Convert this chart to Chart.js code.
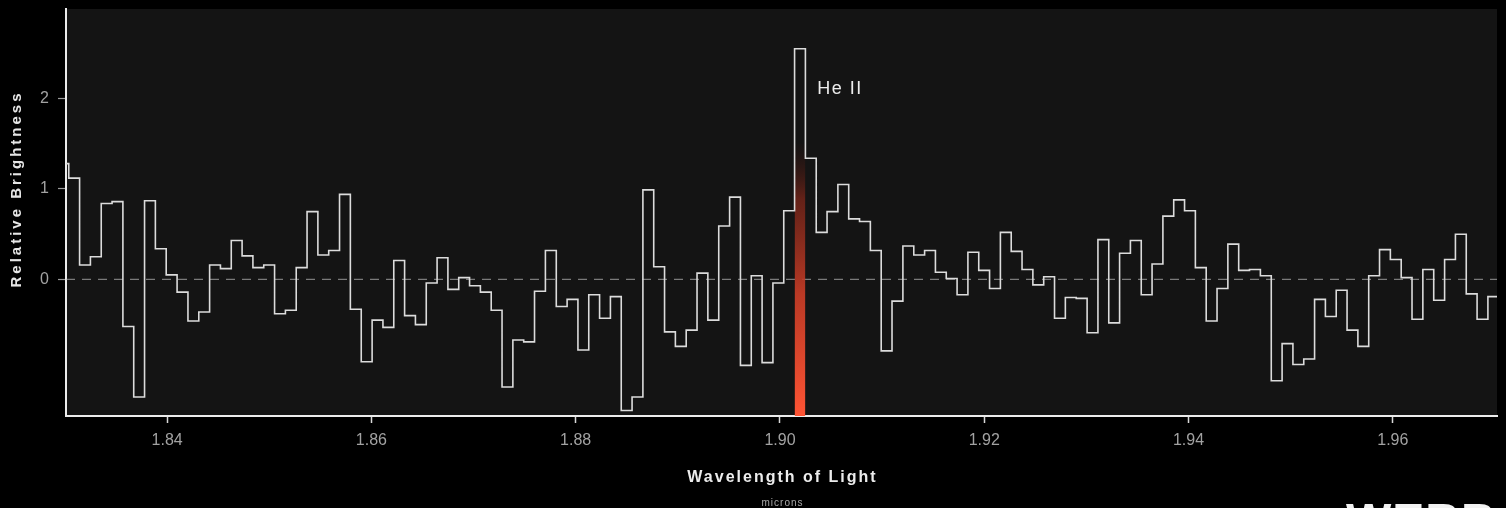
<!DOCTYPE html>
<html><head><meta charset="utf-8">
<script src="https://cdn.jsdelivr.net/npm/chart.js@4.4.1/dist/chart.umd.min.js"></script>
<style>html,body{margin:0;padding:0;background:#000;}#wrap{position:relative;width:1506px;height:508px;}</style>
</head><body><div id="wrap"><canvas id="c"></canvas></div>
<script>
// Bin-centre wavelengths (microns) and relative brightness of each bin
const wavelengths = [
1.82984,1.83090,1.83196,1.83302,1.83408,1.83514,1.83620,1.83726,1.83832,1.83938,
1.84044,1.84151,1.84257,1.84363,1.84469,1.84575,1.84681,1.84787,1.84893,1.84999,
1.85105,1.85211,1.85317,1.85423,1.85529,1.85635,1.85741,1.85847,1.85954,1.86060,
1.86166,1.86272,1.86378,1.86484,1.86590,1.86696,1.86802,1.86908,1.87014,1.87120,
1.87226,1.87332,1.87438,1.87544,1.87650,1.87757,1.87863,1.87969,1.88075,1.88181,
1.88287,1.88393,1.88499,1.88605,1.88711,1.88817,1.88923,1.89029,1.89135,1.89241,
1.89347,1.89454,1.89560,1.89666,1.89772,1.89878,1.89984,1.90090,1.90196,1.90302,
1.90408,1.90514,1.90620,1.90726,1.90832,1.90938,1.91044,1.91150,1.91257,1.91363,
1.91469,1.91575,1.91681,1.91787,1.91893,1.91999,1.92105,1.92211,1.92317,1.92423,
1.92529,1.92635,1.92741,1.92847,1.92954,1.93060,1.93166,1.93272,1.93378,1.93484,
1.93590,1.93696,1.93802,1.93908,1.94014,1.94120,1.94226,1.94332,1.94438,1.94544,
1.94650,1.94757,1.94863,1.94969,1.95075,1.95181,1.95287,1.95393,1.95499,1.95605,
1.95711,1.95817,1.95923,1.96029,1.96135,1.96241,1.96347,1.96454,1.96560,1.96666,
1.96772,1.96878,1.96984
];
const brightness = [
1.28,1.12,0.16,0.25,0.84,0.86,-0.52,-1.30,0.87,0.34,
0.05,-0.14,-0.46,-0.36,0.16,0.12,0.43,0.26,0.13,0.16,
-0.38,-0.34,0.13,0.75,0.27,0.32,0.94,-0.33,-0.91,-0.45,
-0.53,0.21,-0.40,-0.50,-0.04,0.24,-0.11,0.02,-0.07,-0.14,
-0.34,-1.19,-0.67,-0.69,-0.13,0.32,-0.30,-0.22,-0.78,-0.17,
-0.43,-0.19,-1.45,-1.30,0.99,0.14,-0.58,-0.74,-0.56,0.07,
-0.45,0.59,0.91,-0.95,0.04,-0.92,-0.04,0.76,2.55,1.34,
0.52,0.75,1.05,0.67,0.64,0.32,-0.79,-0.24,0.37,0.27,
0.32,0.08,0.01,-0.17,0.30,0.10,-0.10,0.52,0.31,0.11,
-0.06,0.03,-0.43,-0.20,-0.21,-0.59,0.44,-0.48,0.29,0.43,
-0.17,0.17,0.70,0.88,0.76,0.13,-0.46,-0.10,0.39,0.10,
0.11,0.04,-1.12,-0.71,-0.94,-0.88,-0.22,-0.41,-0.12,-0.56,
-0.74,0.04,0.33,0.22,0.02,-0.44,0.11,-0.23,0.22,0.50,
-0.16,-0.44,-0.19
];
const xTickValues = [1.84, 1.86, 1.88, 1.90, 1.92, 1.94, 1.96];
const yTickValues = [0, 1, 2];
const xRange = [1.8301, 1.9702];
const yRange = [-1.51, 2.99];
const heIIWavelength = 1.90196;
const heIIGlowTop = 1.5;
const heIILabel = 'He II';
const heIILabelPos = {x: 1.90365, y: 2.11};
const yTitle = 'Relative Brightness';
const xTitle = 'Wavelength of Light';
const xUnit = 'microns';
const logoText = 'WEBB';

function binEdges(i) {
  const prev = i > 0 ? wavelengths[i] - wavelengths[i - 1] : wavelengths[1] - wavelengths[0];
  const next = i < wavelengths.length - 1 ? wavelengths[i + 1] - wavelengths[i] : prev;
  return [wavelengths[i] - prev / 2, wavelengths[i] + next / 2];
}
const stepPoints = [];
brightness.forEach((v, i) => { const [a, b] = binEdges(i); stepPoints.push({x: a, y: v}, {x: b, y: v}); });
const peakIndex = wavelengths.indexOf(heIIWavelength);
const [gA, gB] = binEdges(peakIndex);
const glowPoints = [{x: gA, y: heIIGlowTop}, {x: gB, y: heIIGlowTop}];
const zeroPoints = [{x: xRange[0], y: 0}, {x: xRange[1], y: 0}];

const FONT = '"Liberation Sans", Arial, Helvetica, sans-serif';

const decor = {
  id: 'decor',
  beforeDraw(chart) {
    const {ctx, chartArea: a, width, height} = chart;
    ctx.save();
    ctx.fillStyle = '#000';
    ctx.fillRect(0, 0, width, height);
    ctx.fillStyle = '#141414';
    ctx.fillRect(a.left, a.top, a.right - a.left, a.bottom - a.top);
    ctx.restore();
  },
  afterDraw(chart) {
    const {ctx, chartArea: a, scales} = chart;
    ctx.save();
    ctx.fillStyle = '#ececec';
    ctx.font = '18px ' + FONT;
    ctx.letterSpacing = '1.5px';
    ctx.textAlign = 'left';
    ctx.textBaseline = 'middle';
    ctx.fillText(heIILabel, scales.x.getPixelForValue(heIILabelPos.x), scales.y.getPixelForValue(heIILabelPos.y));
    ctx.save();
    ctx.translate(17, 189);
    ctx.rotate(-Math.PI / 2);
    ctx.font = 'bold 15px ' + FONT;
    ctx.letterSpacing = '3px';
    ctx.textAlign = 'center';
    ctx.fillStyle = '#e6e6e6';
    ctx.fillText(yTitle, 0, 0);
    ctx.restore();
    const cx = (a.left + a.right) / 2;
    ctx.font = 'bold 16px ' + FONT;
    ctx.letterSpacing = '2px';
    ctx.textAlign = 'center';
    ctx.fillStyle = '#ececec';
    ctx.fillText(xTitle, cx + 1, 478);
    ctx.font = '10px ' + FONT;
    ctx.letterSpacing = '1px';
    ctx.fillStyle = '#a8a8a8';
    ctx.fillText(xUnit, cx + 1, 503);
    ctx.font = 'bold 48px ' + FONT;
    ctx.letterSpacing = '1px';
    ctx.textAlign = 'left';
    ctx.textBaseline = 'alphabetic';
    ctx.fillStyle = '#f2f2f2';
    ctx.fillText(logoText, 1346, 537);
    ctx.restore();
  }
};

new Chart(document.getElementById('c'), {
  type: 'line',
  data: {
    datasets: [
      {
        label: 'spectrum', data: stepPoints, borderColor: '#dcdcdc', borderWidth: 1.6,
        pointRadius: 0, tension: 0, fill: false, order: 1, clip: 0
      },
      {
        label: 'He II glow', data: glowPoints, borderWidth: 0, pointRadius: 0, order: 2, clip: 0,
        fill: 'start',
        backgroundColor: (c) => {
          const chart = c.chart; const a = chart.chartArea;
          if (!a) return 'rgba(0,0,0,0)';
          const yTop = chart.scales.y.getPixelForValue(heIIGlowTop);
          const g = chart.ctx.createLinearGradient(0, a.bottom, 0, yTop);
          g.addColorStop(0, 'rgba(255,84,52,1)');
          g.addColorStop(0.45, 'rgba(200,60,38,0.92)');
          g.addColorStop(0.8, 'rgba(125,38,25,0.75)');
          g.addColorStop(1, 'rgba(60,22,16,0.05)');
          return g;
        }
      },
      {
        label: 'zero', data: zeroPoints, borderColor: 'rgba(190,190,190,0.6)', borderWidth: 1.2,
        borderDash: [9, 7], pointRadius: 0, order: 3, fill: false, clip: 0
      }
    ]
  },
  options: {
    responsive: true, maintainAspectRatio: false, animation: false,
    layout: {padding: {top: 9, right: 9, left: 0, bottom: 0}},
    plugins: {legend: {display: false}, tooltip: {enabled: false}},
    scales: {
      x: {
        type: 'linear', min: xRange[0], max: xRange[1],
        afterFit(s) { s.height = 92; s.paddingLeft = 0; s.paddingRight = 0; },
        afterBuildTicks(s) { s.ticks = xTickValues.map(v => ({value: v})); },
        ticks: {color: '#a2a2a2', font: {family: FONT, size: 16}, padding: 8,
                callback: (v) => Number(v).toFixed(2), maxRotation: 0, autoSkip: false},
        grid: {drawOnChartArea: false, drawTicks: true, tickLength: 7, tickColor: '#d8d8d8', tickWidth: 1.5},
        border: {display: true, color: '#ececec', width: 2}
      },
      y: {
        type: 'linear', min: yRange[0], max: yRange[1],
        afterFit(s) { s.width = 66; s.paddingTop = 0; s.paddingBottom = 0; },
        afterBuildTicks(s) { s.ticks = yTickValues.map(v => ({value: v})); },
        ticks: {color: '#a2a2a2', font: {family: FONT, size: 16}, padding: 9,
                callback: (v) => String(v), autoSkip: false},
        grid: {drawOnChartArea: false, drawTicks: true, tickLength: 8, tickColor: '#9a9a9a', tickWidth: 1.2},
        border: {display: true, color: '#ececec', width: 2}
      }
    }
  },
  plugins: [decor]
});
</script>
</body></html>
